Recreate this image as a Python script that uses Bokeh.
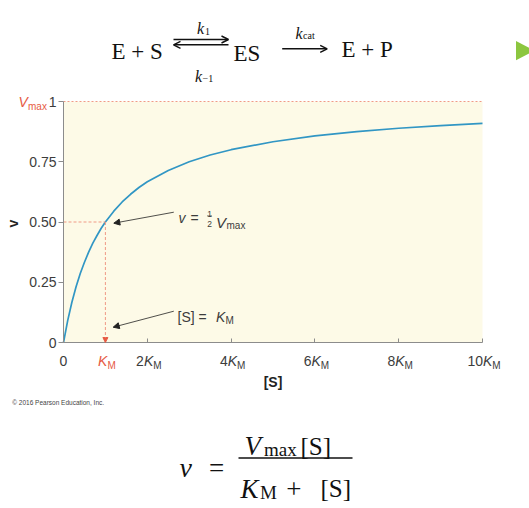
import math
from bokeh.plotting import figure
from bokeh.models import (Range1d, FixedTicker, Label, Arrow, NormalHead, OpenHead,
                          PolyAnnotation, BoxAnnotation, LinearAxis)
from bokeh.embed import file_html
from bokeh.resources import INLINE

# ---------------- data ----------------
substrate = [0, 0.1, 0.2, 0.3, 0.4, 0.5, 0.6, 0.7, 0.8, 0.9, 1.0, 1.2, 1.4, 1.6,
             1.8, 2.0, 2.5, 3.0, 3.5, 4.0, 5.0, 6.0, 7.0, 8.0, 9.0, 10.0]
velocity = [0, 0.091, 0.167, 0.231, 0.286, 0.333, 0.375, 0.412, 0.444, 0.474,
            0.5, 0.545, 0.583, 0.615, 0.643, 0.667, 0.714, 0.75, 0.778, 0.8,
            0.833, 0.857, 0.875, 0.889, 0.9, 0.909]
km = 1.0
vmax = 1.0
half_vmax = 0.5
s_max = 10.0
y_ticks = [0, 0.25, 0.5, 0.75, 1]
y_tick_labels = ["0", "0.25", "0.50", "0.75", "1"]
x_ticks = [0, 2, 4, 6, 8, 10]
x_label_values = [0, 1, 2, 4, 6, 8, 10]
x_label_coefs = ["0", "", "2", "4", "6", "8", "10"]

# ---------------- layout ----------------
W, H = 529, 508
# pixel box of the plotting area inside the canvas
PX0, PX1, PY1, PY0 = 63.0, 482.0, 101.0, 342.0
KX = (PX1 - PX0) / s_max          # px per unit of [S]
KY = (PY0 - PY1) / vmax           # px per unit of v
x_lo, x_hi = -PX0 / KX, (W - PX0) / KX
y_lo, y_hi = -(H - PY0) / KY, PY0 / KY

SANS = "Liberation Sans"
SERIF = "Liberation Serif"
RED = "#e65a44"
SALMON = "#f09a86"
BLUE = "#3196c4"
GRAY = "#8c8c8c"
TXT = "#3c3c3c"
INK = "#111111"


def dx(px):
    return x_lo + px / KX


def dy(py):
    return y_hi - py / KY


p = figure(width=W, height=H, output_backend="svg", toolbar_location=None,
           x_range=Range1d(x_lo, x_hi), y_range=Range1d(y_lo, y_hi),
           x_axis_location=None, y_axis_location=None,
           min_border=0, min_border_left=0, min_border_right=0,
           min_border_top=0, min_border_bottom=0)
p.background_fill_color = "white"
p.border_fill_color = "white"
p.outline_line_color = None
p.grid.visible = False

# plotting area background
p.add_layout(BoxAnnotation(left=0, right=s_max, bottom=0, top=vmax,
                           fill_color="#fdfae7", fill_alpha=1.0, line_color=None,
                           level="underlay"))

# axes (library axes, fixed at the data origin)
yax = LinearAxis(fixed_location=0, bounds=(0, vmax), ticker=FixedTicker(ticks=y_ticks))
yax.major_label_overrides = {t: l for t, l in zip(y_ticks, y_tick_labels)}
yax.major_label_text_font = SANS
yax.major_label_text_font_size = "14px"
yax.major_label_text_color = TXT
yax.major_label_standoff = 2
yax.major_tick_out = 5
yax.major_tick_in = 0
yax.minor_tick_line_color = None
yax.axis_line_color = GRAY
yax.major_tick_line_color = GRAY
p.add_layout(yax, "left")

xax = LinearAxis(fixed_location=0, bounds=(0, s_max), ticker=FixedTicker(ticks=x_ticks))
xax.major_label_overrides = {t: "" for t in x_ticks}
xax.major_tick_out = 0
xax.major_tick_in = 4
xax.minor_tick_line_color = None
xax.axis_line_color = GRAY
xax.major_tick_line_color = GRAY
p.add_layout(xax, "below")

# top dashed line at Vmax
p.line([0, s_max], [vmax, vmax], line_color=SALMON, line_dash="2 2", line_width=1)

# curve
p.line(substrate, velocity, line_color=BLUE, line_width=1.7)

# half Vmax guide and K_M arrow
p.line([0, km], [half_vmax, half_vmax], line_color=SALMON, line_dash="3 2", line_width=1)
p.add_layout(Arrow(x_start=km, y_start=half_vmax, x_end=km, y_end=0,
                   line_color=SALMON, line_dash="3 2", line_width=1,
                   end=NormalHead(size=5, fill_color=RED, line_color=RED)))


def lab(px, py, text, size, font=SANS, color=TXT, style="normal",
        align="left", baseline="alphabetic", angle=0.0):
    p.add_layout(Label(x=dx(px), y=dy(py), text=text, text_font=font,
                       text_font_size=f"{size}px", text_color=color,
                       text_font_style=style, text_align=align,
                       text_baseline=baseline, angle=angle))


def seg(x0, y0, x1, y1, color="black", width=1.0, head=None):
    p.add_layout(Arrow(x_start=dx(x0), y_start=dy(y0), x_end=dx(x1), y_end=dy(y1),
                       line_color=color, line_width=width, start=None, end=head))


# x tick labels
for v, c in zip(x_label_values, x_label_coefs):
    tx = PX0 + v * KX
    if v == 0:
        lab(tx, 360, "0", 14, align="center")
        continue
    col = RED if c == "" else TXT
    w_num = len(c) * 7.8
    w_k = 9.3
    w_m = 8.3
    start = tx - (w_num + w_k + w_m) / 2 + 1.5
    if c:
        lab(start, 360, c, 14, color=col)
    lab(start + w_num, 360, "K", 14, color=col, style="italic")
    lab(start + w_num + w_k, 365, "M", 10, color=col)

# axis titles
lab(272.5, 381, "[S]", 14, color="#222", style="bold", align="center")
lab(12.5, 223, "v", 14, color="#222", style="bold", align="center",
    baseline="middle", angle=math.pi / 2)

# Vmax label
lab(18, 101.5, "V", 14, color=RED, style="italic")
lab(27.5, 106, "max", 10, color=RED)

# annotations inside the plot
seg(173.3, 211.7, 113.3, 222.7, color="#222", width=0.8,
    head=NormalHead(size=6, fill_color="#222", line_color="#222"))
seg(173.3, 310.7, 112.7, 326.7, color="#222", width=0.8,
    head=NormalHead(size=6, fill_color="#222", line_color="#222"))
lab(178, 217, "v", 14, style="italic")
lab(190, 217, "=", 14)
lab(209, 213.5, "1", 8.5, align="center")
lab(209, 223, "2", 8.5, align="center")
seg(206.5, 215.3, 211.5, 215.3, color=TXT, width=0.6)
lab(215.5, 221.7, "V", 15, style="italic")
lab(226, 224.5, "max", 10)
lab(177, 316, "[S] = ", 14)
lab(215.5, 316, "K", 14, style="italic")
lab(225, 320, "M", 10)

# copyright
lab(11.7, 401.5, "\u00a9 2016 Pearson Education, Inc.", 6.5, color="#444")

# reaction scheme at the top
lab(111, 51, "E + S", 23, font=SERIF, color=INK)
lab(196.5, 28.3, "k", 16, font=SERIF, color=INK, style="italic")
lab(204.5, 30.5, "1", 10, font=SERIF, color=INK)
seg(173, 39, 228, 39, color=INK, width=1.4, head=OpenHead(size=7, line_width=1.4, line_color=INK))
seg(228, 44.3, 173, 44.3, color=INK, width=1.4, head=OpenHead(size=7, line_width=1.4, line_color=INK))
lab(194.5, 75.5, "k", 16, font=SERIF, color=INK, style="italic")
lab(202, 77.5, "\u22121", 10, font=SERIF, color=INK)
lab(233, 53, "ES", 23, font=SERIF, color=INK)
seg(281.7, 48.3, 326.7, 48.3, color=INK, width=1.4, head=OpenHead(size=7, line_width=1.4, line_color=INK))
lab(295, 33.3, "k", 16, font=SERIF, color=INK, style="italic")
lab(302.5, 35, "cat", 10, font=SERIF, color=INK)
lab(341, 48.5, "E + P", 23, font=SERIF, color=INK)

# green marker at the right edge
p.add_layout(PolyAnnotation(xs=[dx(515.5), dx(515.5), dx(534)],
                            ys=[dy(40.5), dy(59.7), dy(50.1)],
                            fill_color="#8cc63f", fill_alpha=1.0, line_color=None))

# Michaelis-Menten equation at the bottom
lab(179, 467, "\u03bd", 28, font=SERIF, color=INK, style="italic")
lab(216, 467, "=", 27, font=SERIF, color=INK, align="center")
seg(238, 457.5, 352, 457.5, color=INK, width=1.3)
lab(244, 445, "V", 27, font=SERIF, color=INK, style="italic")
lab(263.5, 449, "max", 19, font=SERIF, color=INK)
lab(300, 446, "[S]", 25, font=SERIF, color=INK)
lab(240, 488, "K", 27, font=SERIF, color=INK, style="italic")
lab(259.5, 492, "M", 19, font=SERIF, color=INK)
lab(293.3, 488, "+", 27, font=SERIF, color=INK, align="center")
lab(320, 488, "[S]", 25, font=SERIF, color=INK)

open("out.html", "w").write(file_html(p, INLINE))
